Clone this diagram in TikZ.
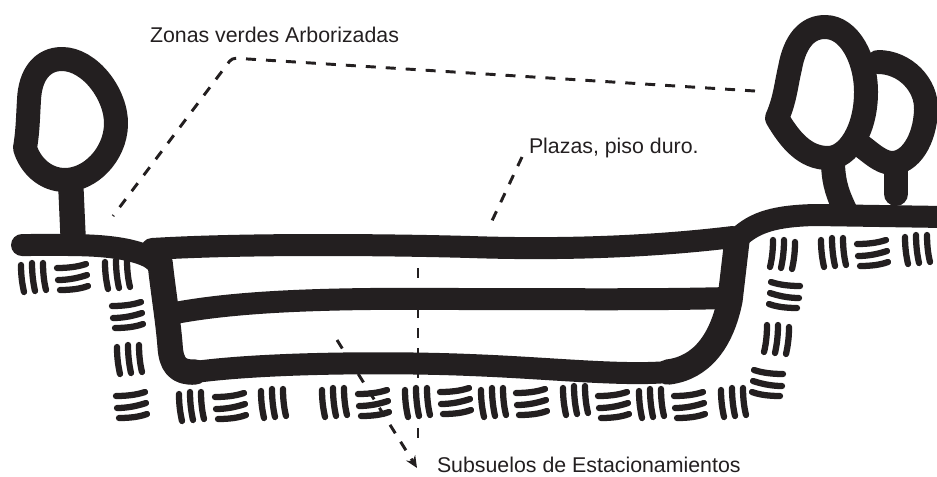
\documentclass[tikz,border=0pt]{standalone}
\usepackage{fontspec}
\setmainfont{Liberation Sans}
\usetikzlibrary{arrows.meta}
\definecolor{ink}{HTML}{231F20}
\tikzset{
  x=0.75pt, y=-0.75pt,
  mass/.style={draw=ink, line width=16.5pt, line cap=round, line join=round},
  wall/.style={draw=ink, line width=19pt, line cap=round, line join=round},
  foliage/.style={draw=ink, line width=18pt, line cap=round, line join=round},
  tick/.style={draw=ink, line width=4.7pt, line cap=round},
  leader/.style={draw=ink, line width=2.2pt, dash pattern=on 7.5pt off 7.5pt},
  caption/.style={anchor=base west, inner sep=0pt, outer sep=0pt, text=ink, font=\fontsize{16pt}{19pt}\selectfont},
  vhatch/.pic={
    \draw[tick] (-12,-13) .. controls (-12,-3) and (-11,5) .. (-9,14);
    \draw[tick] (-1,-15) .. controls (-1,-5) and (0,4) .. (2,13);
    \draw[tick] (10,-15) .. controls (10,-5) and (11,4) .. (13,12);
  },
  hhatch/.pic={
    \draw[tick] (-15,-9) .. controls (-5,-9) and (5,-10) .. (14,-13);
    \draw[tick] (-14,3) .. controls (-4,3) and (6,1) .. (15,-2);
    \draw[tick] (-12,13) .. controls (-2,13) and (8,12) .. (16,9);
  }
}
\begin{document}
\begin{tikzpicture}
\useasboundingbox (0,0) rectangle (937,476);

% Soil hatching, left to right along the excavation
\foreach \px/\py in {33/278, 117/275, 129/360, 191/407, 273/404, 334/403, 417/403, 493/403, 575/401, 651/404, 733/403, 833/253, 917/250}
  \pic at (\px,\py) {vhatch};
\foreach \px/\py in {72/277, 127/315, 131/405, 230/406, 373/403, 455/401, 531/402, 613/405, 689/405, 872/253}
  \pic at (\px,\py) {hhatch};
\pic[xscale=-1] at (777,340) {vhatch};
\pic[xscale=-1] at (783,255) {vhatch};
\pic[xscale=-1] at (768,383) {hhatch};
\pic[xscale=-1] at (785,295) {hhatch};

% Ground line, slabs and retaining walls
\path[mass] (22,245) .. controls (70,245) and (100,244) .. (128,250)
  .. controls (145,254) and (155,258) .. (160,268);
\path[wall] (160,262) .. controls (163,290) and (168,320) .. (170,345)
  .. controls (171,365) and (178,373) .. (195,372);
\path[mass] (195,372) .. controls (270,362) and (400,362) .. (470,365)
  .. controls (550,368) and (620,376) .. (668,372);
\path[wall] (668,372) .. controls (702,368) and (722,340) .. (730,300)
  -- (737,240);
\path[mass] (152,249) .. controls (250,243) and (400,245) .. (470,247)
  .. controls (560,250) and (650,247) .. (733,237);
\path[mass] (170,314) .. controls (240,300) and (340,298) .. (460,299)
  .. controls (560,299) and (650,300) .. (728,298);
\path[mass] (738,238) .. controls (755,222) and (775,216) .. (815,215) -- (945,217);

% Trees
\draw[foliage] (25,148) .. controls (28,130) and (28,115) .. (29,100)
  .. controls (30,75) and (42,59) .. (62,59)
  .. controls (90,59) and (117,95) .. (116,125)
  .. controls (115,155) and (90,180) .. (65,180)
  .. controls (45,180) and (30,165) .. (25,148);
\draw[foliage, line width=19pt] (71,190) -- (73,235);
\draw[foliage] (878,62) .. controls (905,62) and (927,85) .. (926,110)
  .. controls (925,140) and (910,163) .. (892,163)
  .. controls (880,163) and (868,150) .. (860,145);
\draw[foliage] (896,170) -- (896,194);
\draw[foliage] (777,118) .. controls (785,100) and (786,85) .. (790,68)
  .. controls (795,40) and (808,27) .. (825,27)
  .. controls (850,27) and (866,60) .. (866,92)
  .. controls (866,130) and (848,158) .. (828,158)
  .. controls (805,158) and (790,140) .. (777,118);
\draw[foliage] (833,165) .. controls (834,185) and (838,195) .. (846,212);

% Labels
\node[caption] (zonas) at (150,42) {Zonas verdes Arborizadas};
\node[caption] (plazas) at (529,153) {Plazas, piso duro.};
\node[caption] (subsuelos) at (437,472) {Subsuelos de Estacionamientos};

% Dashed leaders
\coordinate (verdeizq) at (113,216);
\coordinate (verdecodo) at (232,58);
\coordinate (verdeder) at (755,91);
\coordinate (plazapie) at (490,225);
\coordinate (plazacab) at (522,157);
\coordinate (sueloa) at (418,268);
\coordinate (sueloc) at (418,448);
\coordinate (suelob) at (337,340);
\coordinate (punta) at (417,468);
\draw[leader, rounded corners=3pt] (verdeder) -- (verdecodo) -- (verdeizq);
\draw[leader] (plazacab) -- (plazapie);
\draw[leader] (sueloa) -- (sueloc);
\draw[leader, -{Stealth[length=9pt,width=8pt]}] (suelob) -- (punta);
\end{tikzpicture}
\end{document}
